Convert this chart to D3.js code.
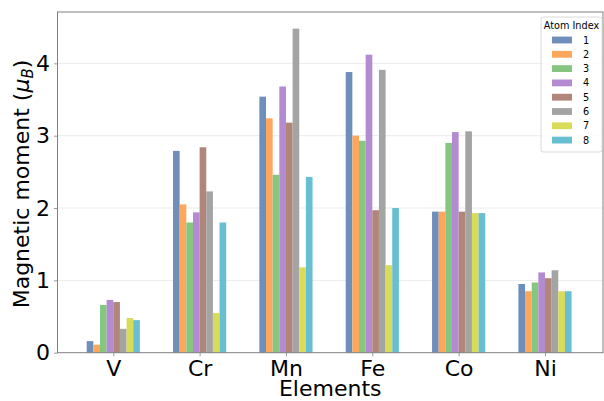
<!DOCTYPE html>
<html>
<head>
<meta charset="utf-8">
<script src="https://cdn.jsdelivr.net/npm/d3@7"></script>
<style>
  body { margin: 0; background: #fff; }
  svg { font-family: "DejaVu Sans", sans-serif; }
</style>
</head>
<body>
<svg id="chart" width="604" height="401"></svg>
<script>
// data
var elements = ["V", "Cr", "Mn", "Fe", "Co", "Ni"];
var atomIndex = ["1", "2", "3", "4", "5", "6", "7", "8"];
// moments per atom index, one value per element
var atom1 = [0.16, 2.79, 3.54, 3.88, 1.95, 0.95];
var atom2 = [0.11, 2.05, 3.24, 3.00, 1.95, 0.85];
var atom3 = [0.66, 1.80, 2.46, 2.93, 2.90, 0.97];
var atom4 = [0.73, 1.94, 3.68, 4.12, 3.05, 1.11];
var atom5 = [0.70, 2.84, 3.18, 1.97, 1.95, 1.03];
var atom6 = [0.33, 2.23, 4.48, 3.91, 3.06, 1.14];
var atom7 = [0.48, 0.55, 1.18, 1.21, 1.93, 0.85];
var atom8 = [0.45, 1.80, 2.43, 2.00, 1.93, 0.85];
var series = [atom1, atom2, atom3, atom4, atom5, atom6, atom7, atom8];
var yTicks = [0, 1, 2, 3, 4];

var colors = ["#6f8fbb", "#fda65c", "#85c680", "#b48bd0", "#b0857a", "#a4a4a4", "#d9dc58", "#67bfd1"];

// plot box (window.top is taken, so prefixed names)
var pLeft = 57.5, pRight = 603, pTop = 12, pBottom = 352.7;
var barW = 0.077;

var x = d3.scaleLinear().domain([-0.646, 5.672]).range([pLeft, pRight]);
var y = d3.scaleLinear().domain([0, 4.71]).range([pBottom, pTop]);

var svg = d3.select("#chart");

// grid
svg.append("g").selectAll("line")
    .data(yTicks.slice(1))
  .enter().append("line")
    .attr("x1", pLeft).attr("x2", pRight)
    .attr("y1", function(d){ return y(d); })
    .attr("y2", function(d){ return y(d); })
    .attr("stroke", "#ebebeb")
    .attr("stroke-width", 1);

// bars
var rows = [];
series.forEach(function(vals, i){
  vals.forEach(function(v, j){
    rows.push({s: i, e: j, v: v});
  });
});

svg.append("g").selectAll("rect")
    .data(rows)
  .enter().append("rect")
    .attr("x", function(d){ return x(d.e + (d.s - 4) * barW); })
    .attr("width", function(d){ return x(barW) - x(0); })
    .attr("y", function(d){ return y(d.v); })
    .attr("height", function(d){ return y(0) - y(d.v); })
    .attr("fill", function(d){ return colors[d.s]; });

// axes
var xAxis = d3.axisBottom(x)
    .tickValues(d3.range(elements.length))
    .tickFormat(function(d){ return elements[d]; })
    .tickSize(3.5).tickPadding(3);
var yAxis = d3.axisLeft(y)
    .tickValues(yTicks)
    .tickFormat(d3.format("d"))
    .tickSize(3.5).tickPadding(4);

var gx = svg.append("g").attr("transform", "translate(0," + pBottom + ")").call(xAxis);
var gy = svg.append("g").attr("transform", "translate(" + pLeft + ",0)").call(yAxis);
[gx, gy].forEach(function(g){
  g.select(".domain").remove();
  g.selectAll(".tick line").attr("stroke", "#808080").attr("stroke-width", 0.8);
  g.selectAll(".tick text").attr("fill", "#000").style("font-size", "22px")
   .style("font-family", "DejaVu Sans");
});
gx.selectAll(".tick text").attr("dy", "0.75em");

// frame
svg.append("rect")
    .attr("x", pLeft).attr("y", pTop)
    .attr("width", pRight - pLeft).attr("height", pBottom - pTop)
    .attr("fill", "none").attr("stroke", "#808080").attr("stroke-width", 1);

// axis labels
svg.append("text")
    .attr("x", (pLeft + pRight) / 2).attr("y", 396)
    .attr("text-anchor", "middle")
    .style("font-size", "22px")
    .text("Elements");

var yl = svg.append("text")
    .attr("transform", "translate(29,184) rotate(-90)")
    .attr("text-anchor", "middle")
    .style("font-size", "22px");
yl.append("tspan").text("Magnetic moment (");
yl.append("tspan").style("font-style", "italic").text("μ");
yl.append("tspan").style("font-style", "italic").style("font-size", "15px").attr("dy", 4).text("B");
yl.append("tspan").attr("dy", -4).text(")");

// legend
var lg = svg.append("g").attr("transform", "translate(541,17)");
lg.append("rect")
    .attr("width", 61).attr("height", 135)
    .attr("rx", 2.5)
    .attr("fill", "#fff").attr("fill-opacity", 0.8)
    .attr("stroke", "#d0d0d0").attr("stroke-width", 0.8);
lg.append("text")
    .attr("x", 30.5).attr("y", 11.5)
    .attr("text-anchor", "middle")
    .style("font-size", "9.7px")
    .text("Atom Index");
var item = lg.selectAll(".item")
    .data(atomIndex)
  .enter().append("g")
    .attr("transform", function(d, i){ return "translate(0," + (23 + i * 14.3) + ")"; });
item.append("rect")
    .attr("x", 11).attr("y", -3.4)
    .attr("width", 20).attr("height", 6.8)
    .attr("fill", function(d, i){ return colors[i]; });
item.append("text")
    .attr("x", 42).attr("y", 3.5)
    .style("font-size", "9.7px")
    .text(function(d){ return d; });
</script>
</body>
</html>
